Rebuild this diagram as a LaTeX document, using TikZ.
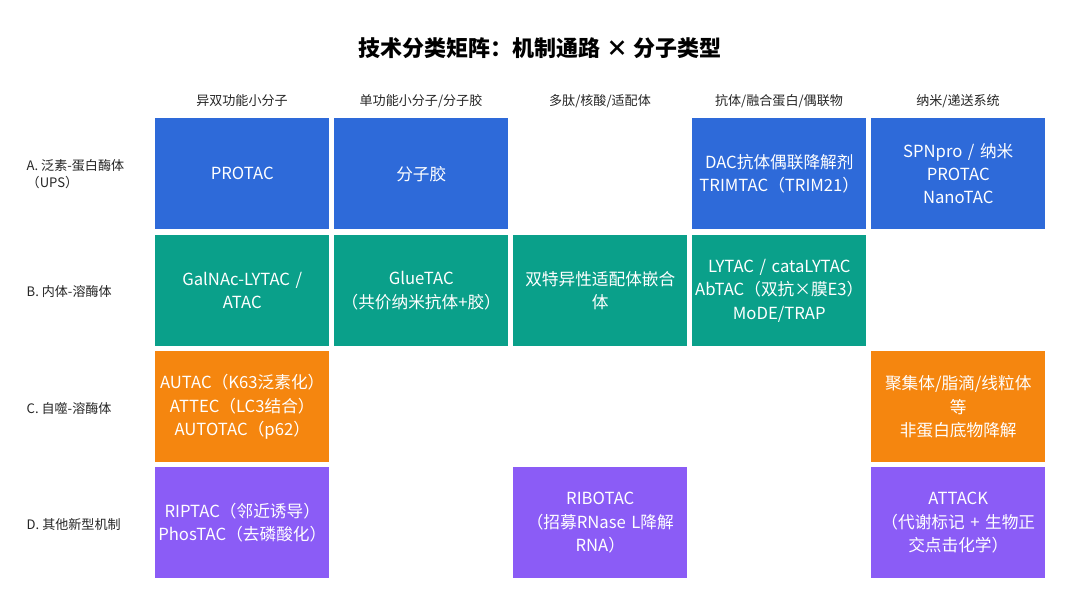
\documentclass[tikz,border=0pt]{standalone}
\usepackage{fontspec}
\setmainfont{Noto Sans CJK SC}
\definecolor{cb}{HTML}{2E6AD9}
\definecolor{cg}{HTML}{0AA08A}
\definecolor{co}{HTML}{F5860F}
\definecolor{cp}{HTML}{8B5CF6}
\begin{document}
\begin{tikzpicture}[x=0.75pt,y=-0.75pt,
 cell/.style={anchor=north west,minimum width=174*0.75pt,minimum height=111*0.75pt,inner sep=0pt,
   text=white,align=center,font=\fontsize{12.5}{17.5}\selectfont,text width=170*0.75pt},
 hdr/.style={font=\fontsize{9.8}{12}\selectfont,text=black!85},
 rl/.style={anchor=west,font=\fontsize{9.8}{13}\selectfont,align=left,text=black!85}]
\path[use as bounding box,fill=white] (0,0) rectangle (1080,604);
\node[font=\fontsize{16.5}{20}\selectfont\bfseries] (t) at (540,48) {技术分类矩阵：机制通路 × 分子类型};
\node[hdr] (h1) at (242,101) {异双功能小分子};
\node[hdr] (h2) at (421,101) {单功能小分子/分子胶};
\node[hdr] (h3) at (600,101) {多肽/核酸/适配体};
\node[hdr] (h4) at (779,101) {抗体/融合蛋白/偶联物};
\node[hdr] (h5) at (958,101) {纳米/递送系统};
\node[rl] (r1) at (22,174) {A. 泛素-蛋白酶体\\（UPS）};
\node[rl] (r2) at (22,292) {B. 内体-溶酶体};
\node[rl] (r3) at (22,408) {C. 自噬-溶酶体};
\node[rl] (r4) at (22,524) {D. 其他新型机制};
% row A
\node[cell,fill=cb] (a1) at (155,118) {PROTAC};
\node[cell,fill=cb] (a2) at (334,118) {分子胶};
\node[cell,fill=cb] (a4) at (692,118) {DAC抗体偶联降解剂\\TRIMTAC（TRIM21）};
\node[cell,fill=cb] (a5) at (871,118) {SPNpro / 纳米\\PROTAC\\NanoTAC};
% row B
\node[cell,fill=cg] (b1) at (155,235) {GalNAc-LYTAC /\\ATAC};
\node[cell,fill=cg] (b2) at (334,235) {GlueTAC\\（共价纳米抗体+胶）};
\node[cell,fill=cg] (b3) at (513,235) {双特异性适配体嵌合\\体};
\node[cell,fill=cg] (b4) at (692,235) {LYTAC / cataLYTAC\\AbTAC（双抗×膜E3）\\MoDE/TRAP};
% row C
\node[cell,fill=co] (c1) at (155,351) {AUTAC（K63泛素化）\\ATTEC（LC3结合）\\AUTOTAC（p62）};
\node[cell,fill=co] (c5) at (871,351) {聚集体/脂滴/线粒体\\等\\非蛋白底物降解};
% row D
\node[cell,fill=cp] (d1) at (155,467) {RIPTAC（邻近诱导）\\PhosTAC（去磷酸化）};
\node[cell,fill=cp] (d3) at (513,467) {RIBOTAC\\（招募RNase L降解\\RNA）};
\node[cell,fill=cp] (d5) at (871,467) {ATTACK\\（代谢标记 + 生物正\\交点击化学）};
\end{tikzpicture}
\end{document}
